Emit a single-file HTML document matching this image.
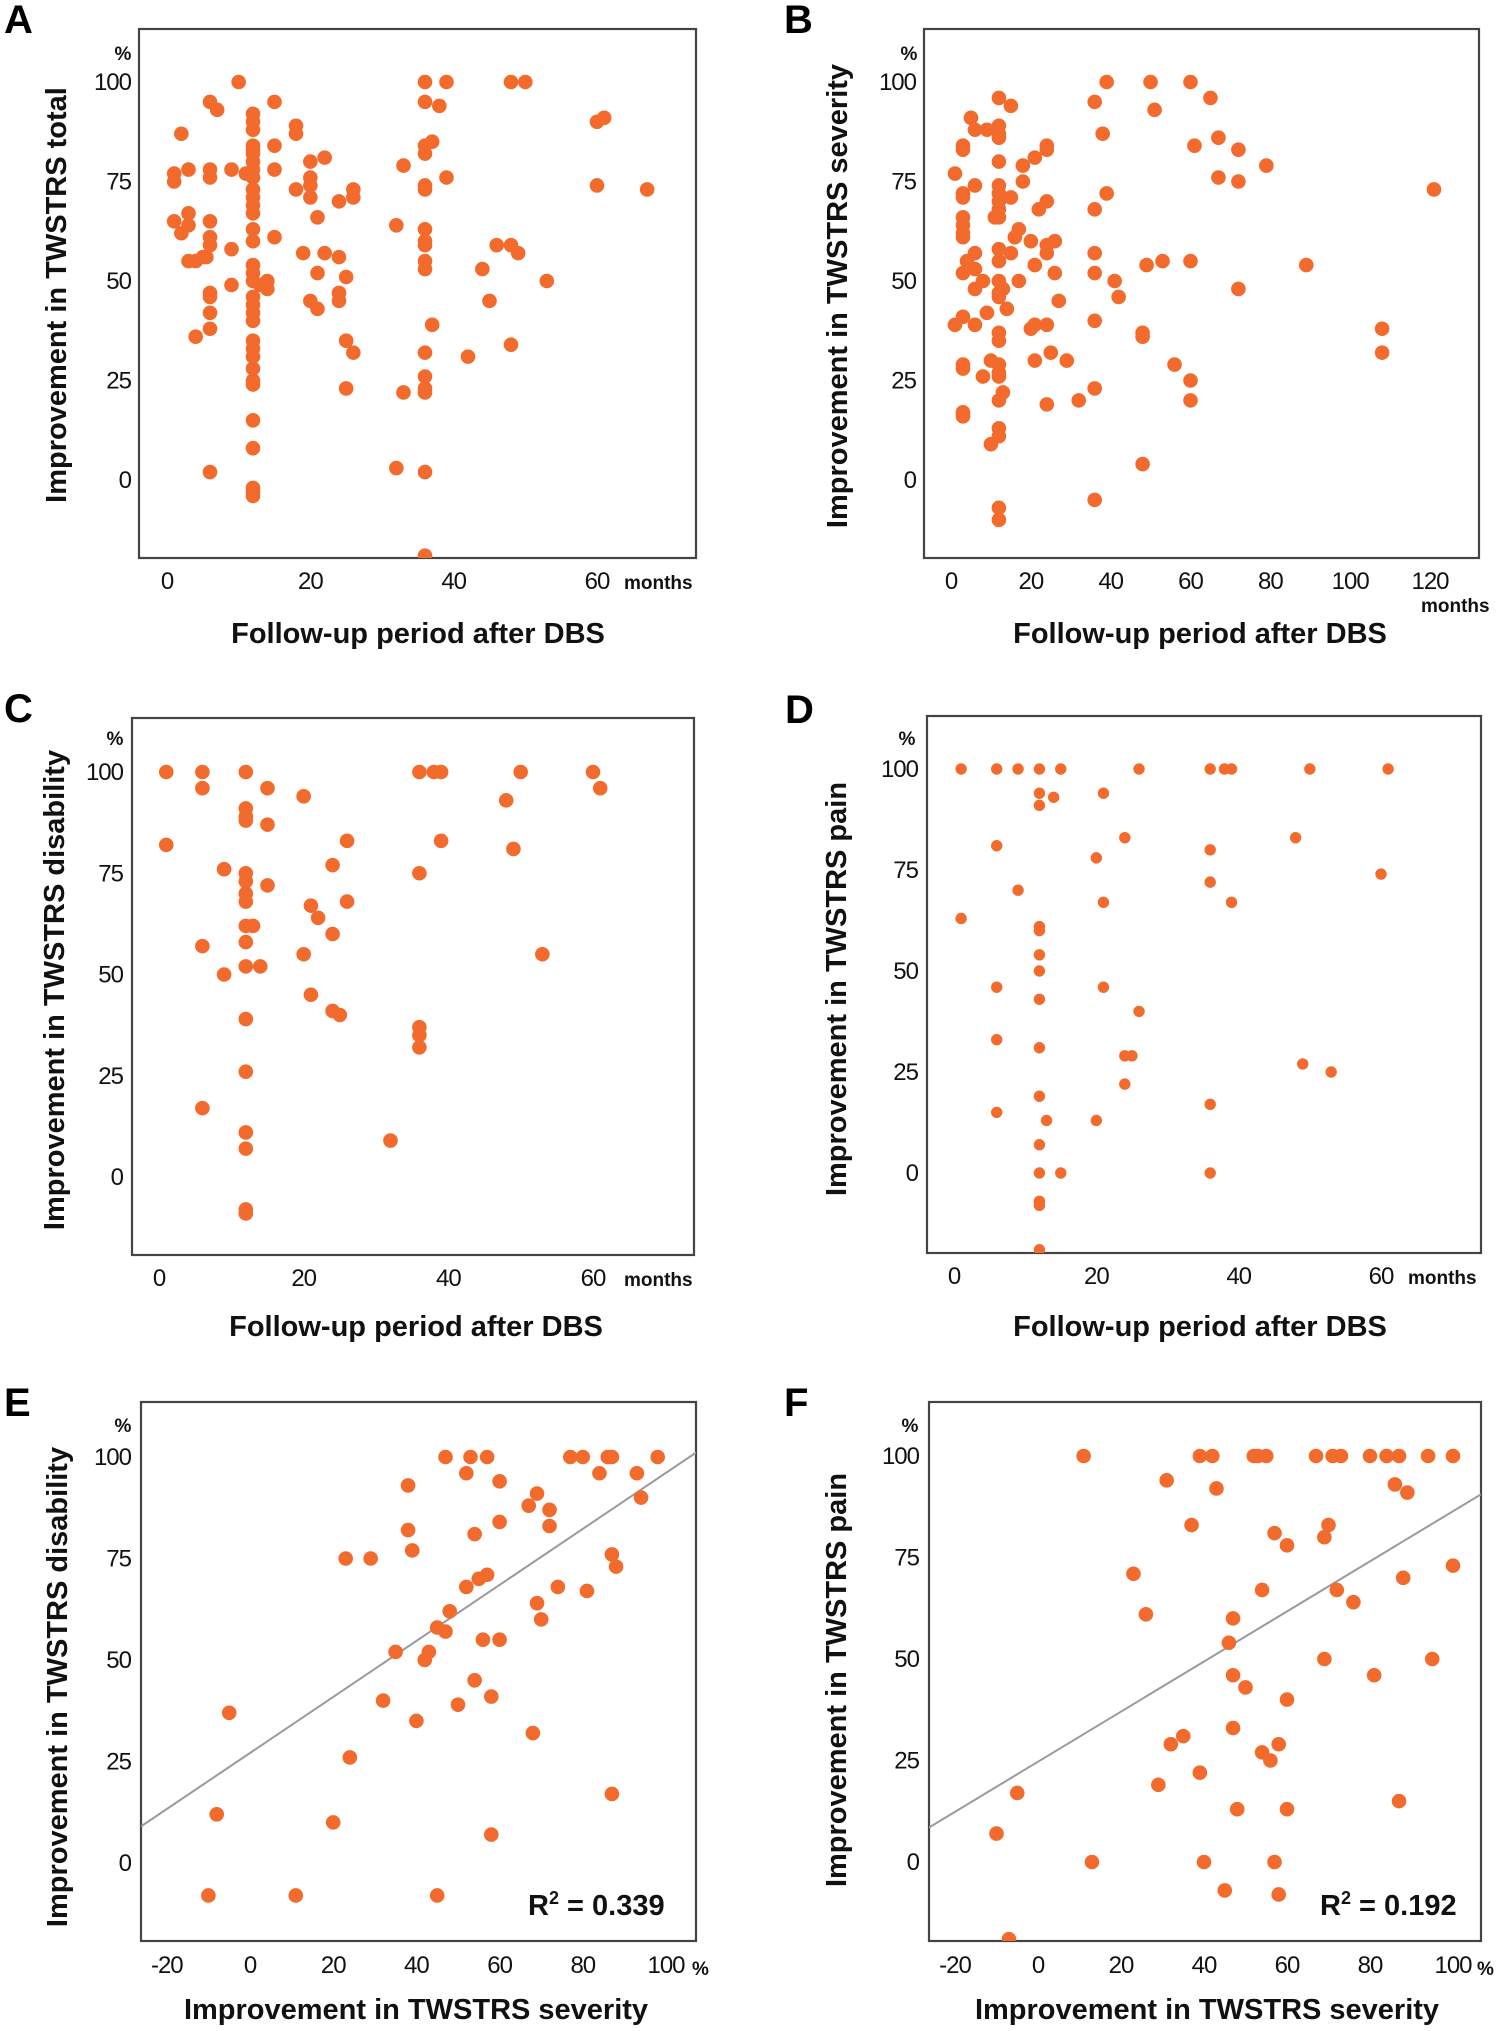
<!DOCTYPE html>
<html><head><meta charset="utf-8"><style>
html,body{margin:0;padding:0;background:#fff;}
svg{display:block;font-family:"Liberation Sans",Arial,sans-serif;}
.tick{font-size:24px;fill:#111;letter-spacing:-1px;}
.title{font-size:29px;font-weight:bold;fill:#111;}
.letter{font-size:40px;font-weight:bold;fill:#000;}
.unit{font-size:19px;font-weight:bold;fill:#111;}
</style></head><body>
<svg id="fig" width="1500" height="2031" viewBox="0 0 1500 2031" xmlns="http://www.w3.org/2000/svg"></svg>
<script>
// ---- Data ----
const aMonths=[10,36,39,48,50,6,7,15,36,38,2,12,12,12,18,18,60,61,12,12,12,15,36,37,36,12,20,22,33,1,1,3,6,6,9,11,12,12,15,20,20,39,36,36,60,67,18,12,12,12,12,20,24,26,26,21,1,2,3,3,6,6,6,9,12,12,15,32,36,36,36,46,48,49,3,4,5,5.5,12,12,12,13,14,14,19,22,24,21,25,36,36,44,53,6,6,9,12,12,12,12,20,21,24,24,45,6,4,6,12,12,12,12,12,25,26,37,36,42,48,12,25,33,36,36,36,12,12,6,32,36,12,12,12,36];
const aTotal=[100,100,100,100,100,95,93,95,95,94,87,92,90,88,89,87,90,91,84,83,82,84,84,85,82,80,80,81,79,77,75,78,78,76,78,77,78,76,78,76,74,76,74,73,74,73,73,73,71,69,67,71,70,73,71,66,65,62,67,64,65,61,59,58,63,60,61,64,63,60,59,59,59,57,55,55,56,56,54,52,50,49,50,48,57,57,56,52,51,55,53,53,50,47,46,49,46,44,42,40,45,43,47,45,45,42,36,38,35,33,31,28,25,35,32,39,32,31,34,24,23,22,26,23,22,15,8,2,3,2,-2,-3,-4,-19];
const bMonths=[39,50,60,36,15,12,65,51,5,6,9,12,12,12,38,67,3,3,24,24,61,72,21,12,18,79,1,67,72,18,3,3,6,12,12,12,12,15,39,121,24,22,36,11,12,3,3,3,3,17,16,20,24,26,24,12,15,6,36,4,12,21,53,60,89,49,3,6,8,12,13,12,12,26,36,17,41,6,72,42,27,14,9,1,3,6,12,12,20,21,24,36,48,48,108,108,10,21,25,29,56,12,12,12,8,3,3,13,12,24,32,36,60,60,3,3,12,12,10,48,36,12,12];
const bSeverity=[100,100,100,95,94,96,96,93,91,88,88,89,87,86,87,86,84,83,84,83,84,83,81,80,79,79,77,76,75,75,72,71,74,74,72,70,68,71,72,73,70,68,68,66,66,66,64,62,61,63,61,60,59,60,57,58,57,57,57,55,55,54,55,55,54,54,52,53,50,50,48,47,46,52,52,50,50,48,48,46,45,43,42,39,41,39,37,35,38,39,39,40,37,36,38,32,30,30,32,30,29,29,27,26,26,29,28,22,20,19,20,23,25,20,17,16,13,11,9,4,-5,-7,-10];
const cMonths=[1,6,12,36,38,39,50,60,6,15,61,20,48,12,12,12,15,26,39,1,49,9,12,12,24,36,15,12,12,26,21,22,12,13,24,12,6,20,53,12,14,9,21,24,25,12,36,36,36,12,6,12,32,12,12,12];
const cDisability=[100,100,100,100,100,100,100,100,96,96,96,94,93,91,89,88,87,83,83,82,81,76,75,73,77,75,72,70,68,68,67,64,62,62,60,58,57,55,55,52,52,50,45,41,40,39,37,35,32,26,17,11,9,7,-8,-9];
const dMonths=[1,6,9,12,15,26,36,38,39,50,61,12,14,21,12,24,48,6,36,20,60,36,9,21,39,1,12,12,12,12,6,21,12,26,6,12,24,25,49,53,24,12,36,6,13,20,12,12,15,36,12,12,12];
const dPain=[100,100,100,100,100,100,100,100,100,100,100,94,93,94,91,83,83,81,80,78,74,72,70,67,67,63,61,60,54,50,46,46,43,40,33,31,29,29,27,25,22,19,17,15,13,13,7,0,0,0,-7,-8,-19];
const eSeverity=[47,53,57,77,80,86,87,98,52,84,93,38,60,69,94,67,72,38,60,72,54,39,23,29,87,88,57,55,52,74,81,69,48,70,45,47,56,60,35,43,42,54,32,50,58,-5,40,68,24,-8,20,87,58,-10,11,45];
const eDisability=[100,100,100,100,100,100,100,100,96,96,96,93,94,91,90,88,87,82,84,83,81,77,75,75,76,73,71,70,68,68,67,64,62,60,58,57,55,55,52,52,50,45,40,39,41,37,35,32,26,12,10,17,7,-8,-8,-8];
const fSeverity=[11,39,42,52,53,55,67,71,73,80,84,87,94,100,31,43,86,89,37,57,60,69,70,23,88,100,54,72,76,26,47,46,69,95,47,50,81,60,47,35,32,54,56,58,39,29,-5,48,60,87,-10,13,40,57,45,58,-7];
const fPain=[100,100,100,100,100,100,100,100,100,100,100,100,100,100,94,92,93,91,83,81,78,80,83,71,70,73,67,67,64,61,60,54,50,50,46,43,46,40,33,31,29,27,25,29,22,19,17,13,13,15,7,0,0,0,-7,-8,-19];
const eFit=[27.1,0.69];   // intercept, slope
const fFit=[24.7,0.617];
const monthTicks=[0,20,40,60];
const monthTicksB=[0,20,40,60,80,100,120];
const pctTicks=[0,25,50,75,100];
const sevTicks=[-20,0,20,40,60,80,100];
const tickLabelsX=["-20","0","20","40","60","80","100"];

const NS="http://www.w3.org/2000/svg";
const svg=document.getElementById('fig');
function mk(tag,attrs,parent){const e=document.createElementNS(NS,tag);for(const k in attrs)e.setAttribute(k,attrs[k]);(parent||svg).appendChild(e);return e;}
function txt(s,attrs,parent){const e=mk('text',attrs,parent);e.textContent=s;return e;}

function panel(p){
  const g=mk('g',{});
  
  
  const sx=v=>p.xp0+(v-p.xv0)*(p.xp1-p.xp0)/(p.xv1-p.xv0);
  const sy=v=>p.yp0+(v-p.yv0)*(p.yp1-p.yp0)/(p.yv1-p.yv0);
  const cid='clip-'+p.id;
  const cp=mk('clipPath',{id:cid},g);
  mk('rect',{x:p.bx,y:p.by,width:p.bw,height:p.bh},cp);
  const box=mk('rect',{x:p.bx,y:p.by,width:p.bw,height:p.bh,fill:'none',stroke:'#444','stroke-width':2.2},g);
  
  
  const lt=txt(p.letter,{x:p.lx,y:p.ly,class:'letter'},g);
  
  
  const pc=txt('%',{x:p.pctX,y:p.pctY,class:'unit','text-anchor':'middle'},g);
  
  
  p.yTicks.forEach(v=>{
    const t=txt(String(v),{x:p.ytx,y:sy(v)+8,class:'tick','text-anchor':'end'},g);
    
    
  });
  p.xTicks.forEach((v,i)=>{
    const t=txt(p.xLabels?p.xLabels[i]:String(v),{x:sx(v),y:p.xty,class:'tick','text-anchor':'middle'},g);
    
    
  });
  if(p.xUnit){
    const u=txt(p.xUnit,{x:p.xux,y:p.xuy,class:'unit','font-weight':p.xUnit==='%'?'normal':'bold'},g);
    
    
  }
  const xt=txt(p.xTitle,{x:p.xtX,y:p.xtY,class:'title','text-anchor':'middle'},g);
  
  
  const yt=txt(p.yTitle,{x:0,y:0,class:'title','text-anchor':'middle',transform:`translate(${p.ytX},${p.ytY}) rotate(-90)`},g);
  
  
  const dg=mk('g',{'clip-path':`url(#${cid})`},g);
  if(p.fit){
    const xa=p.xv0+(p.bx-p.xp0)*(p.xv1-p.xv0)/(p.xp1-p.xp0);
    const xb=p.xv0+(p.bx+p.bw-p.xp0)*(p.xv1-p.xv0)/(p.xp1-p.xp0);
    const ln=mk('line',{x1:sx(xa),y1:sy(p.fit[0]+p.fit[1]*xa),x2:sx(xb),y2:sy(p.fit[0]+p.fit[1]*xb),stroke:'#9a9a9a','stroke-width':2},dg);
    
    
  }
  p.xs.forEach((x,i)=>{
    const c=mk('circle',{cx:sx(x),cy:sy(p.ys[i]),r:p.r,fill:'#F26A2C'},dg);
    
    
  });
  if(p.r2){
    const r=txt('',{x:p.r2x,y:p.r2y,class:'title','font-size':'29px'},g);
    
    
    r.innerHTML='R<tspan dy="-11" font-size="18">2</tspan><tspan dy="11"> = '+p.r2+'</tspan>';
  }
}

panel({id:'a',letter:'A',lx:4,ly:33,bx:139,by:29,bw:557,bh:529,xv0:0,xp0:167,xv1:60,xp1:597,yv0:0,yp0:480,yv1:100,yp1:82,
  xs:aMonths,ys:aTotal,r:7.3,xTicks:monthTicks,yTicks:pctTicks,ytx:131,xty:589,pctX:123,pctY:60,xUnit:'months',xux:624,xuy:589,
  xTitle:'Follow-up period after DBS',xtX:418,xtY:643,yTitle:'Improvement in TWSTRS total',ytX:66,ytY:295});
panel({id:'b',letter:'B',lx:784,ly:33,bx:924,by:29,bw:555,bh:529,xv0:0,xp0:951,xv1:120,xp1:1430,yv0:0,yp0:480,yv1:100,yp1:82,
  xs:bMonths,ys:bSeverity,r:7.3,xTicks:monthTicksB,yTicks:pctTicks,ytx:916,xty:589,pctX:909,pctY:60,xUnit:'months',xux:1421,xuy:612,
  xTitle:'Follow-up period after DBS',xtX:1200,xtY:643,yTitle:'Improvement in TWSTRS severity',ytX:847,ytY:296});
panel({id:'c',letter:'C',lx:4,ly:722,bx:132,by:718,bw:562,bh:537,xv0:0,xp0:159,xv1:60,xp1:593,yv0:0,yp0:1177,yv1:100,yp1:772,
  xs:cMonths,ys:cDisability,r:7.3,xTicks:monthTicks,yTicks:pctTicks,ytx:123,xty:1286,pctX:115,pctY:745,xUnit:'months',xux:624,xuy:1286,
  xTitle:'Follow-up period after DBS',xtX:416,xtY:1336,yTitle:'Improvement in TWSTRS disability',ytX:64,ytY:990});
panel({id:'d',letter:'D',lx:785,ly:723,bx:927,by:716,bw:554,bh:537,xv0:0,xp0:954,xv1:60,xp1:1381,yv0:0,yp0:1173,yv1:100,yp1:769,
  xs:dMonths,ys:dPain,r:5.7,xTicks:monthTicks,yTicks:pctTicks,ytx:918,xty:1284,pctX:907,pctY:745,xUnit:'months',xux:1408,xuy:1284,
  xTitle:'Follow-up period after DBS',xtX:1200,xtY:1336,yTitle:'Improvement in TWSTRS pain',ytX:846,ytY:989});
panel({id:'e',letter:'E',lx:4,ly:1416,bx:141,by:1402,bw:555,bh:539,xv0:0,xp0:250,xv1:100,xp1:666,yv0:0,yp0:1863,yv1:100,yp1:1457,
  xs:eSeverity,ys:eDisability,r:7.3,xTicks:sevTicks,xLabels:tickLabelsX,yTicks:pctTicks,ytx:131,xty:1973,pctX:123,pctY:1432,xUnit:'%',xux:692,xuy:1975,
  xTitle:'Improvement in TWSTRS severity',xtX:416,xtY:2019,yTitle:'Improvement in TWSTRS disability',ytX:67,ytY:1687,fit:eFit,r2:'0.339',r2x:528,r2y:1915});
panel({id:'f',letter:'F',lx:784,ly:1416,bx:929,by:1402,bw:552,bh:539,xv0:0,xp0:1038,xv1:100,xp1:1453,yv0:0,yp0:1862,yv1:100,yp1:1456,
  xs:fSeverity,ys:fPain,r:7.3,xTicks:sevTicks,xLabels:tickLabelsX,yTicks:pctTicks,ytx:919,xty:1973,pctX:910,pctY:1432,xUnit:'%',xux:1477,xuy:1975,
  xTitle:'Improvement in TWSTRS severity',xtX:1207,xtY:2019,yTitle:'Improvement in TWSTRS pain',ytX:846,ytY:1680,fit:fFit,r2:'0.192',r2x:1320,r2y:1915});
</script>
</body></html>
